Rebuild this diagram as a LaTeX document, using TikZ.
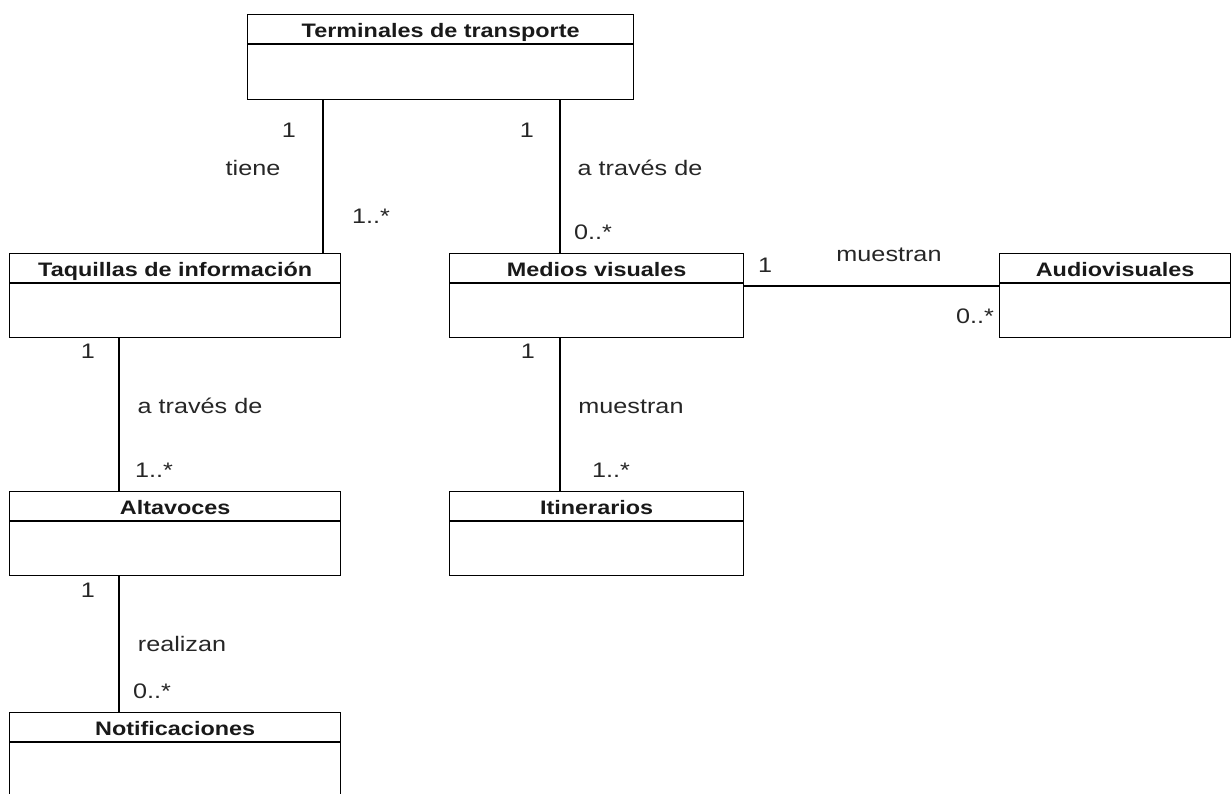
\documentclass[tikz,border=0pt]{standalone}
\usepackage{fontspec}
\setmainfont{Liberation Sans}[FakeStretch=1.2]
\begin{document}
\begin{tikzpicture}[x=1pt,y=-1pt,
  cls/.style={draw, line width=1.3pt, anchor=north west, inner sep=0pt, minimum height=84pt},
  ttl/.style={font=\fontsize{19.5}{22}\selectfont\bfseries, inner sep=0pt, anchor=base, text=black!90},
  lbl/.style={font=\fontsize{21}{24}\selectfont, inner sep=0pt, anchor=base, text=black!85},
  assoc/.style={line width=1.3pt},
  divider/.style={line width=1.3pt}]
\useasboundingbox (0,0) rectangle (1232,793);
\clip (0,0) rectangle (1232,793);

% class boxes: name compartment (30pt) above an empty attribute compartment
\node[cls, minimum width=386pt, minimum height=85pt] (term) at (247,14) {};
\node[cls, minimum width=331pt] (taq)   at (9,253)   {};
\node[cls, minimum width=294pt] (med)   at (449,253) {};
\node[cls, minimum width=231pt] (aud)   at (999,253) {};
\node[cls, minimum width=331pt] (alt)   at (9,491)   {};
\node[cls, minimum width=294pt] (iti)   at (449,491) {};
\node[cls, minimum width=331pt, minimum height=86pt] (noti) at (9,712) {};

\foreach \c in {term,taq,med,aud,alt,iti,noti}{
  \draw[divider] ([yshift=-30pt]\c.north west) -- ([yshift=-30pt]\c.north east);
}

\node[ttl] (term-t) at ([yshift=-23.5pt]term.north) {Terminales de transporte};
\node[ttl] (taq-t)  at ([yshift=-23.5pt]taq.north)  {Taquillas de información};
\node[ttl] (med-t)  at ([yshift=-23.5pt]med.north)  {Medios visuales};
\node[ttl] (aud-t)  at ([yshift=-23.5pt]aud.north)  {Audiovisuales};
\node[ttl] (alt-t)  at ([yshift=-23.5pt]alt.north)  {Altavoces};
\node[ttl] (iti-t)  at ([yshift=-23.5pt]iti.north)  {Itinerarios};
\node[ttl] (noti-t) at ([yshift=-23.5pt]noti.north) {Notificaciones};

% association lines
\coordinate (xa) at (323,0);
\coordinate (xb) at (560,0);
\coordinate (xc) at (119,0);
\coordinate (ya) at (0,286);
\draw[assoc] (xa |- term.south) -- (xa |- taq.north);
\draw[assoc] (xb |- term.south) -- (xb |- med.north);
\draw[assoc] (xc |- taq.south)  -- (xc |- alt.north);
\draw[assoc] (xb |- med.south)  -- (xb |- iti.north);
\draw[assoc] (xc |- alt.south)  -- (xc |- noti.north);
\draw[assoc] (med.east |- ya)   -- (aud.west |- ya);

% multiplicities and role names
\node[lbl] (m1)  at (289,137) {1};
\node[lbl] (r1)  at (253,175) {tiene};
\node[lbl] (m2)  at (371,223) {1..*};
\node[lbl] (m3)  at (527,137) {1};
\node[lbl] (r2)  at (640,175) {a través de};
\node[lbl] (m4)  at (593,239) {0..*};
\node[lbl] (m5)  at (765,272) {1};
\node[lbl] (r3)  at (889,261) {muestran};
\node[lbl] (m6)  at (975,323) {0..*};
\node[lbl] (m7)  at (88,358)  {1};
\node[lbl] (r4)  at (200,413) {a través de};
\node[lbl] (m8)  at (154,477) {1..*};
\node[lbl] (m9)  at (528,358) {1};
\node[lbl] (r5)  at (631,413) {muestran};
\node[lbl] (m10) at (611,477) {1..*};
\node[lbl] (m11) at (88,597)  {1};
\node[lbl] (r6)  at (182,651) {realizan};
\node[lbl] (m12) at (152,698) {0..*};
\end{tikzpicture}
\end{document}
